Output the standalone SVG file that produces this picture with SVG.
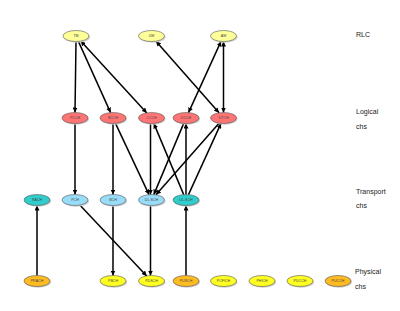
<svg xmlns="http://www.w3.org/2000/svg" width="400" height="311" viewBox="0 0 400 311">
<style>
.n ellipse.s{fill:#d0d0d0;stroke:none}
.n ellipse.b{stroke:#555;stroke-width:0.6}
.n text{font-family:"Liberation Sans",Arial,sans-serif;font-size:3.6px;fill:#444;text-anchor:middle}
.rlc{fill:#ffff99}.log{fill:#ff7575}.tr{fill:#99dcf8}.tq{fill:#33cccc}.py{fill:#ffff22}.po{fill:#ffbb22}
.e line{stroke:#000;stroke-width:1.5;fill:none}
.lbl{font-family:"Liberation Sans",Arial,sans-serif;font-size:7px;fill:#222}
</style>
<defs>
<marker id="a" viewBox="0 0 10 10" refX="10" refY="5" markerWidth="5" markerHeight="5" markerUnits="userSpaceOnUse" orient="auto-start-reverse"><path d="M0,0 L10,5 L0,10 z" fill="#000"/></marker>
</defs>
<rect width="400" height="311" fill="#fff"/>
<g class="e">
<line x1="76" y1="41.5" x2="75" y2="112.5" marker-end="url(#a)"/>
<line x1="78.4" y1="41.4" x2="110.6" y2="112.6" marker-end="url(#a)"/>
<line x1="80.7" y1="41.1" x2="146.8" y2="112.9" marker-start="url(#a)" marker-end="url(#a)"/>
<line x1="156" y1="41.2" x2="219" y2="112.8" marker-start="url(#a)" marker-end="url(#a)"/>
<line x1="221" y1="41.4" x2="188.5" y2="112.6" marker-start="url(#a)" marker-end="url(#a)"/>
<line x1="223.5" y1="41.5" x2="223.5" y2="112.5" marker-start="url(#a)" marker-end="url(#a)"/>
<line x1="75" y1="123.5" x2="75" y2="194.5" marker-end="url(#a)"/>
<line x1="113" y1="123.5" x2="113" y2="194.5" marker-end="url(#a)"/>
<line x1="115.5" y1="123.4" x2="149" y2="194.6" marker-end="url(#a)"/>
<line x1="150.5" y1="123.5" x2="150.5" y2="194.5" marker-end="url(#a)"/>
<line x1="183.7" y1="194.6" x2="153.8" y2="123.4" marker-end="url(#a)"/>
<line x1="183.7" y1="123.4" x2="153.8" y2="194.6" marker-end="url(#a)"/>
<line x1="186" y1="194.5" x2="186" y2="123.5" marker-end="url(#a)"/>
<line x1="219" y1="123.2" x2="156" y2="194.8" marker-end="url(#a)"/>
<line x1="188.5" y1="194.6" x2="221" y2="123.4" marker-end="url(#a)"/>
<line x1="37" y1="275.5" x2="37" y2="205.5" marker-end="url(#a)"/>
<line x1="79.8" y1="205.1" x2="146.7" y2="275.9" marker-end="url(#a)"/>
<line x1="113" y1="205.5" x2="113" y2="275.5" marker-end="url(#a)"/>
<line x1="150.5" y1="205.5" x2="150.5" y2="275.5" marker-end="url(#a)"/>
<line x1="186" y1="275.5" x2="186" y2="205.5" marker-end="url(#a)"/>
</g>
<g id="TM" class="n"><ellipse class="s" cx="77" cy="37.2" rx="13" ry="5.5"/><ellipse class="b rlc" cx="76" cy="36" rx="13" ry="5.5"/><text x="76" y="37.3">TM</text></g>
<g id="UM" class="n"><ellipse class="s" cx="152.5" cy="37.2" rx="13" ry="5.5"/><ellipse class="b rlc" cx="151.5" cy="36" rx="13" ry="5.5"/><text x="151.5" y="37.3">UM</text></g>
<g id="AM" class="n"><ellipse class="s" cx="224.5" cy="37.2" rx="13" ry="5.5"/><ellipse class="b rlc" cx="223.5" cy="36" rx="13" ry="5.5"/><text x="223.5" y="37.3">AM</text></g>
<g id="PCCH" class="n"><ellipse class="s" cx="76" cy="119.2" rx="13" ry="5.5"/><ellipse class="b log" cx="75" cy="118" rx="13" ry="5.5"/><text x="75" y="119.3">PCCH</text></g>
<g id="BCCH" class="n"><ellipse class="s" cx="114" cy="119.2" rx="13" ry="5.5"/><ellipse class="b log" cx="113" cy="118" rx="13" ry="5.5"/><text x="113" y="119.3">BCCH</text></g>
<g id="CCCH" class="n"><ellipse class="s" cx="152.5" cy="119.2" rx="13" ry="5.5"/><ellipse class="b log" cx="151.5" cy="118" rx="13" ry="5.5"/><text x="151.5" y="119.3">CCCH</text></g>
<g id="DCCH" class="n"><ellipse class="s" cx="187" cy="119.2" rx="13" ry="5.5"/><ellipse class="b log" cx="186" cy="118" rx="13" ry="5.5"/><text x="186" y="119.3">DCCH</text></g>
<g id="DTCH" class="n"><ellipse class="s" cx="224.5" cy="119.2" rx="13" ry="5.5"/><ellipse class="b log" cx="223.5" cy="118" rx="13" ry="5.5"/><text x="223.5" y="119.3">DTCH</text></g>
<g id="RACH" class="n"><ellipse class="s" cx="38" cy="201.2" rx="13" ry="5.5"/><ellipse class="b tq" cx="37" cy="200" rx="13" ry="5.5"/><text x="37" y="201.3">RACH</text></g>
<g id="PCH" class="n"><ellipse class="s" cx="76" cy="201.2" rx="13" ry="5.5"/><ellipse class="b tr" cx="75" cy="200" rx="13" ry="5.5"/><text x="75" y="201.3">PCH</text></g>
<g id="BCH" class="n"><ellipse class="s" cx="114" cy="201.2" rx="13" ry="5.5"/><ellipse class="b tr" cx="113" cy="200" rx="13" ry="5.5"/><text x="113" y="201.3">BCH</text></g>
<g id="DL-SCH" class="n"><ellipse class="s" cx="152.5" cy="201.2" rx="13" ry="5.5"/><ellipse class="b tr" cx="151.5" cy="200" rx="13" ry="5.5"/><text x="151.5" y="201.3">DL-SCH</text></g>
<g id="UL-SCH" class="n"><ellipse class="s" cx="187" cy="201.2" rx="13" ry="5.5"/><ellipse class="b tq" cx="186" cy="200" rx="13" ry="5.5"/><text x="186" y="201.3">UL-SCH</text></g>
<g id="PRACH" class="n"><ellipse class="s" cx="38" cy="282.2" rx="13" ry="5.5"/><ellipse class="b po" cx="37" cy="281" rx="13" ry="5.5"/><text x="37" y="282.3">PRACH</text></g>
<g id="PBCH" class="n"><ellipse class="s" cx="114" cy="282.2" rx="13" ry="5.5"/><ellipse class="b py" cx="113" cy="281" rx="13" ry="5.5"/><text x="113" y="282.3">PBCH</text></g>
<g id="PDSCH" class="n"><ellipse class="s" cx="152.5" cy="282.2" rx="13" ry="5.5"/><ellipse class="b py" cx="151.5" cy="281" rx="13" ry="5.5"/><text x="151.5" y="282.3">PDSCH</text></g>
<g id="PUSCH" class="n"><ellipse class="s" cx="187" cy="282.2" rx="13" ry="5.5"/><ellipse class="b po" cx="186" cy="281" rx="13" ry="5.5"/><text x="186" y="282.3">PUSCH</text></g>
<g id="PCFICH" class="n"><ellipse class="s" cx="224.5" cy="282.2" rx="13" ry="5.5"/><ellipse class="b py" cx="223.5" cy="281" rx="13" ry="5.5"/><text x="223.5" y="282.3">PCFICH</text></g>
<g id="PHICH" class="n"><ellipse class="s" cx="263" cy="282.2" rx="13" ry="5.5"/><ellipse class="b py" cx="262" cy="281" rx="13" ry="5.5"/><text x="262" y="282.3">PHICH</text></g>
<g id="PDCCH" class="n"><ellipse class="s" cx="301" cy="282.2" rx="13" ry="5.5"/><ellipse class="b py" cx="300" cy="281" rx="13" ry="5.5"/><text x="300" y="282.3">PDCCH</text></g>
<g id="PUCCH" class="n"><ellipse class="s" cx="339" cy="282.2" rx="13" ry="5.5"/><ellipse class="b po" cx="338" cy="281" rx="13" ry="5.5"/><text x="338" y="282.3">PUCCH</text></g>
<g id="labels">
<text class="lbl" x="356" y="37">RLC</text>
<text class="lbl" x="356" y="114">Logical</text>
<text class="lbl" x="356" y="129">chs</text>
<text class="lbl" x="356" y="194">Transport</text>
<text class="lbl" x="356" y="208">chs</text>
<text class="lbl" x="355" y="274">Physical</text>
<text class="lbl" x="355" y="289">chs</text>
</g>
</svg>
